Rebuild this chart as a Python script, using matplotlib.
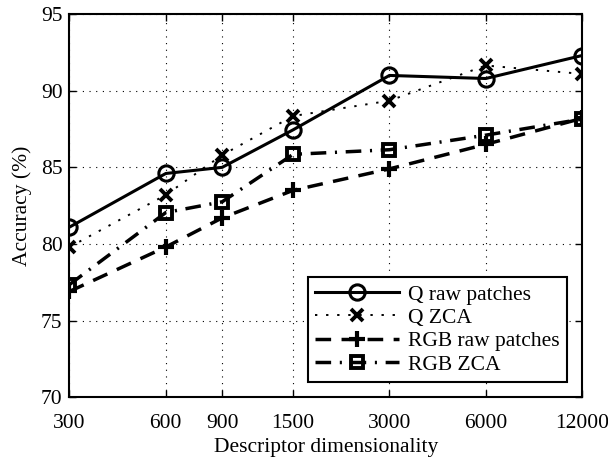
import matplotlib
matplotlib.use("Agg")
import matplotlib.pyplot as plt

plt.rcParams['font.family'] = ['Liberation Serif', 'DejaVu Serif']

dims = [300, 600, 900, 1500, 3000, 6000, 12000]
tick_labels = ['300', '600', '900', '1500', '3000', '6000', '12000']

q_raw = [81.1, 84.6, 85.0, 87.45, 91.0, 90.8, 92.3]
q_zca = [79.8, 83.2, 85.8, 88.35, 89.35, 91.65, 91.1]
rgb_raw = [76.9, 79.8, 81.7, 83.5, 84.9, 86.5, 88.2]
rgb_zca = [77.35, 82.05, 82.75, 85.85, 86.15, 87.1, 88.15]

fig = plt.figure(figsize=(6.08, 4.57), dpi=100)
ax = fig.add_axes([0.1143, 0.131, 0.843, 0.838])

ax.plot(dims, q_raw, color='k', lw=2.2, ls='-', marker='o', ms=11,
        mfc='none', mew=2.2, label='Q raw patches')
ax.plot(dims, q_zca, color='k', lw=1.4, ls=(0, (1.2, 4.5)), marker='x', ms=8,
        mew=2.8, label='Q ZCA')
ax.plot(dims, rgb_raw, color='k', lw=2.5, ls=(0, (4.5, 3)), marker='+', ms=11,
        mew=3, label='RGB raw patches')
ax.plot(dims, rgb_zca, color='k', lw=2.5, ls=(0, (4.5, 2.5, 0.6, 2.5)), marker='s',
        ms=9, mfc='none', mew=2.8, label='RGB ZCA')

ax.set_xscale('log')
ax.set_xlim(300, 12000)
ax.set_ylim(70, 95)
ax.set_xticks(dims)
ax.set_xticklabels(tick_labels)
ax.minorticks_off()
ax.set_yticks([70, 75, 80, 85, 90, 95])

fs = 15.5
ax.grid(True, color='k', ls=(0, (1, 5)), lw=0.8)
ax.tick_params(direction='in', top=True, right=True, length=5, width=1,
               labelsize=fs)
ax.tick_params(axis='x', pad=12)
ax.tick_params(axis='y', pad=5)
for s in ax.spines.values():
    s.set_linewidth(1.5)

ax.set_xlabel('Descriptor dimensionality', fontsize=fs, labelpad=4)
ax.set_ylabel('Accuracy (%)', fontsize=fs, labelpad=6)

leg = ax.legend(loc='lower right', fontsize=fs, handlelength=3.9,
                fancybox=False, framealpha=1, edgecolor='k',
                borderaxespad=0.7, labelspacing=0.15, handletextpad=0.4,
                borderpad=0.35)
leg.get_frame().set_linewidth(1.5)

fig.savefig('out.png', dpi=100)
